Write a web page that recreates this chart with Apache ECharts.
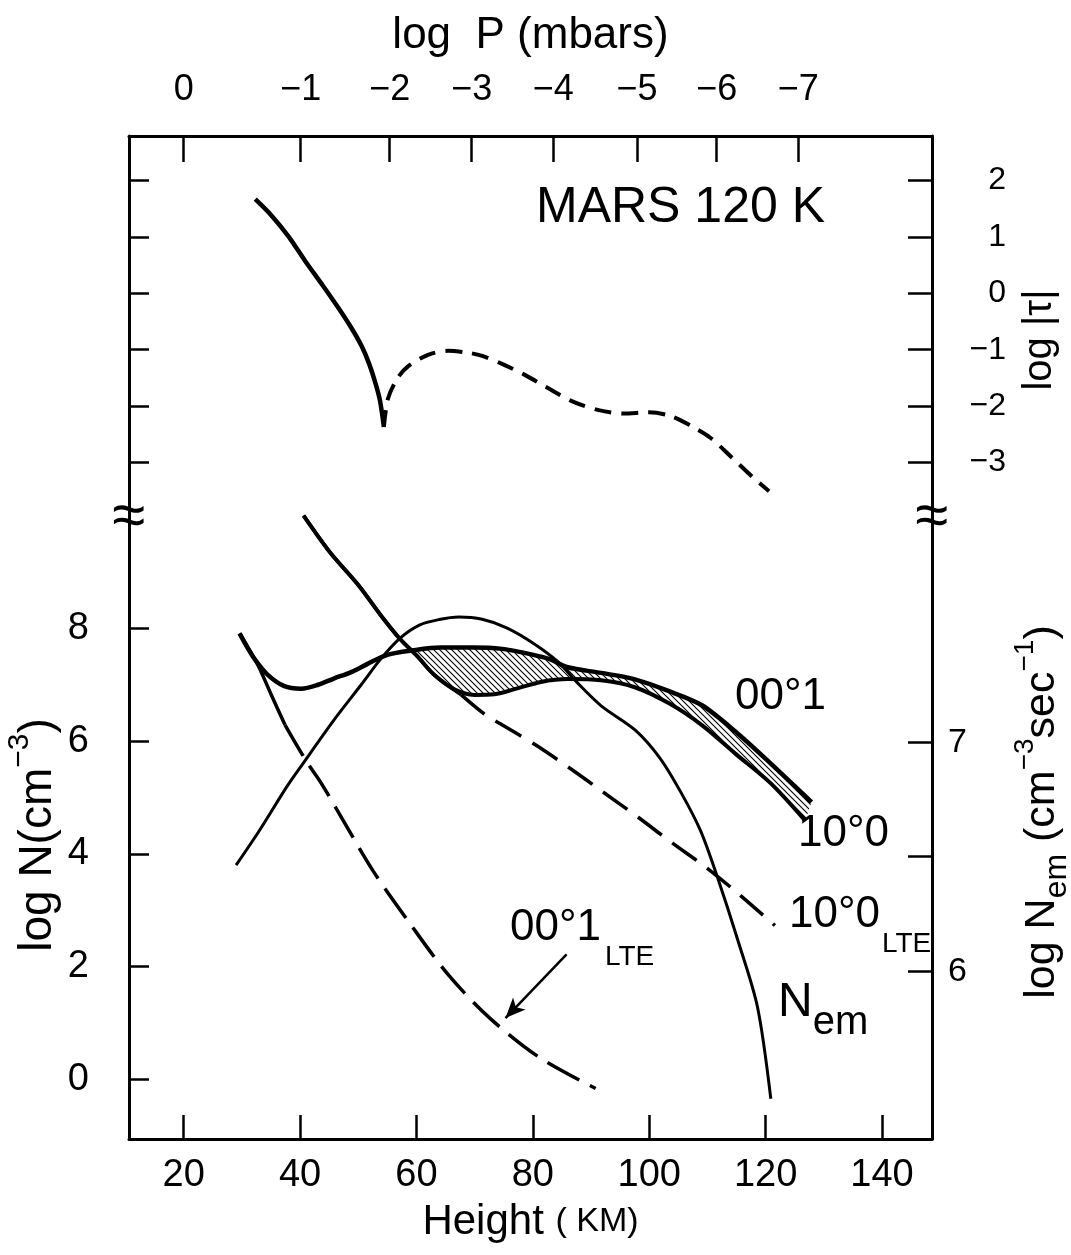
<!DOCTYPE html>
<html>
<head>
<meta charset="utf-8">
<title>MARS 120 K</title>
<style>
  html, body { margin: 0; padding: 0; background: #fff; }
  #main { width: 1071px; height: 1255px; }
</style>
<script src="https://cdn.jsdelivr.net/npm/echarts@6/dist/echarts.min.js"></script>
</head>
<body>
<div id="main"></div>
<script>
// ---- axes ----
var heightTicks = [20, 40, 60, 80, 100, 120, 140];
var pressureLabels = ['0', '−1', '−2', '−3', '−4', '−5', '−6', '−7'];
var pressureHeights = [20.0, 40.1, 55.4, 69.5, 83.5, 97.9, 111.6, 125.6];   // km under each log P tick
var logNTicks = [0, 2, 4, 6, 8];
var tauTicks = [-3, -2, -1, 0, 1, 2];
var nemTicks = [6, 6.5, 7];
var nemLabels = [6, 7];

// axis extents (left log N scale; the tau and N_em scales are tied to it)
var kmMin = 10.6, kmMax = 148.6;
var logNMin = -1.055, logNMax = 16.73;
var tauShift = 13.94;                       // log|tau| = logN - tauShift
var nemAt = function (n) { return 6 + (n - 1.92) / 4.06; };

// ---- curves: [height km, value] ----
// log|tau|, solid branch and dashed branch
var tauSolid = [[32.3, 1.67], [35.0, 1.39], [38.0, 1.01], [40.9, 0.57], [43.9, 0.14], [46.6, -0.26],
  [48.8, -0.61], [50.6, -0.94], [51.9, -1.26], [53.0, -1.61], [53.75, -1.91], [54.4, -2.37]];
var tauDashed = [[54.4, -2.37], [55.1, -1.87], [56.7, -1.51], [58.6, -1.29], [62.0, -1.09], [65.4, -1.02],
  [68.7, -1.05], [71.3, -1.11], [74.7, -1.25], [78.7, -1.45], [82.6, -1.68], [86.9, -1.92], [91.3, -2.07],
  [95.6, -2.13], [99.9, -2.11], [103.5, -2.17], [107.0, -2.34], [110.5, -2.56], [114.2, -2.91],
  [117.7, -3.25], [120.6, -3.51]];

// log N (cm^-3)
var n001 = [[29.6, 7.91], [31.0, 7.65], [32.3, 7.44], [34.4, 7.18], [37.2, 6.98], [40.2, 6.93], [43.1, 7.00],
  [45.8, 7.11], [48.7, 7.22], [51.6, 7.37], [55.0, 7.53], [59.4, 7.61], [64.1, 7.66], [69.7, 7.66],
  [74.4, 7.64], [80.1, 7.53], [83.0, 7.45], [86.0, 7.31], [91.7, 7.21], [97.4, 7.10], [103.3, 6.89],
  [109.0, 6.64], [114.8, 6.17], [120.8, 5.61], [127.9, 4.92]];
var n100 = [[40.6, 10.0], [45.2, 9.34], [50.0, 8.77], [54.1, 8.20], [57.1, 7.82], [60.1, 7.51], [63.0, 7.18],
  [66.5, 6.92], [70.0, 6.82], [73.4, 6.83], [77.5, 6.94], [81.4, 7.05], [86.0, 7.10], [91.7, 7.08],
  [97.4, 6.96], [103.4, 6.67], [109.1, 6.28], [114.9, 5.77], [120.9, 5.25], [126.8, 4.59]];
var n100LTE = [[40.6, 10.0], [45.2, 9.34], [50.0, 8.77], [54.1, 8.20], [57.1, 7.82], [60.1, 7.51], [63.0, 7.18],
  [67.7, 6.82], [71.8, 6.47], [74.7, 6.29], [80.5, 5.93], [86.5, 5.51], [92.3, 5.08], [98.1, 4.65],
  [104.0, 4.19], [109.8, 3.76], [115.6, 3.27], [121.6, 2.73]];
var n001LTE = [[29.6, 7.91], [32.7, 7.36], [35.1, 6.81], [37.4, 6.29], [41.1, 5.64], [43.6, 5.26], [47.2, 4.63],
  [52.6, 3.69], [58.5, 2.82], [65.6, 1.84], [72.7, 1.08], [81.0, 0.40], [90.8, -0.16]];

// log N_em (cm^-3 sec^-1)
var nem = [[29.0, 6.463], [33.1, 6.618], [37.7, 6.805], [40.5, 6.907], [46.0, 7.103], [50.5, 7.251],
  [53.8, 7.362], [57.1, 7.453], [60.5, 7.512], [63.9, 7.536], [67.3, 7.547], [71.3, 7.537], [75.5, 7.500],
  [80.0, 7.434], [84.2, 7.354], [87.8, 7.256], [91.8, 7.158], [97.6, 7.053], [101.9, 6.929], [105.5, 6.779],
  [108.8, 6.615], [111.6, 6.420], [115.3, 6.130], [118.6, 5.845], [120.9, 5.443]];

var hatchFromKm = 59.4;                    // shaded band between 00°1 and 10°0 starts here
var lteSolidUntil100 = 8, lteSolidUntil001 = 4;
var arrowFrom = [85.8, 2.22], arrowTo = [75.3, 1.09];

var FONT = 'Liberation Sans, Arial, sans-serif';

function hatchCanvas() {
  var c = document.createElement('canvas');
  c.width = 6; c.height = 6;
  var g = c.getContext('2d');
  g.strokeStyle = '#000';
  g.lineWidth = 1.1;
  g.beginPath();
  g.moveTo(-1, -1); g.lineTo(7, 7);
  g.moveTo(-1, 5); g.lineTo(1, 7);
  g.moveTo(5, -1); g.lineTo(7, 1);
  g.stroke();
  return c;
}
var hatch = hatchCanvas();

function curve(data, yAxisIndex, width, dash) {
  return {
    type: 'line', data: data, yAxisIndex: yAxisIndex, showSymbol: false, smooth: 0.3, z: 3,
    silent: true, animation: false,
    lineStyle: { color: '#000', width: width, type: dash || 'solid', cap: 'butt' }
  };
}

function txt(x, y, text, size, more) {
  var el = {
    type: 'text', x: x, y: y, silent: true,
    style: { text: text, fontFamily: FONT, fontSize: size, fill: '#000', align: 'left', verticalAlign: 'middle' }
  };
  if (more) {
    for (var k in more) {
      if (k === 'style') { for (var s in more.style) el.style[s] = more.style[s]; }
      else el[k] = more[k];
    }
  }
  return el;
}

var chart = echarts.init(document.getElementById('main'));

var axisLine = { show: true, onZero: false, lineStyle: { color: '#000', width: 3 } };
var noLine = { show: false, onZero: false };
function ticks(values, len) {
  return { show: true, inside: true, length: len, customValues: values, lineStyle: { color: '#000', width: 2.5 } };
}

var lte001Dashed = curve(n001LTE.slice(lteSolidUntil001 - 1), 0, 3.5, [36, 12]);
lte001Dashed.markLine = {
  silent: true, animation: false, symbol: ['none', 'arrow'], symbolSize: [13, 20],
  label: { show: false },
  lineStyle: { color: '#000', width: 2.5, type: 'solid' },
  data: [[{ coord: arrowFrom }, { coord: arrowTo }]]
};

chart.setOption({
  backgroundColor: '#fff',
  animation: false,
  textStyle: { fontFamily: FONT, color: '#000' },
  grid: { left: 129, right: 139, top: 136, bottom: 116, outerBoundsMode: 'none' },
  xAxis: [{
    type: 'value', position: 'bottom', min: kmMin, max: kmMax,
    axisLine: axisLine, splitLine: { show: false },
    axisTick: ticks(heightTicks, 24),
    axisLabel: { customValues: heightTicks, fontSize: 38, color: '#000', margin: 18, fontFamily: FONT },
    name: 'Height {s|( KM)}', nameLocation: 'middle', nameGap: 62,
    nameTextStyle: { fontSize: 42, color: '#000', fontFamily: FONT, rich: { s: { fontSize: 34, fontFamily: FONT } } }
  }, {
    type: 'value', position: 'top', min: kmMin, max: kmMax,
    axisLine: axisLine, splitLine: { show: false },
    axisTick: ticks(pressureHeights, 26),
    axisLabel: {
      customValues: pressureHeights, fontSize: 36, color: '#000', margin: 28, fontFamily: FONT,
      formatter: function (v) {
        var best = 0;
        for (var i = 1; i < pressureHeights.length; i++) {
          if (Math.abs(pressureHeights[i] - v) < Math.abs(pressureHeights[best] - v)) best = i;
        }
        return pressureLabels[best];
      }
    },
    name: 'log  P (mbars)', nameLocation: 'middle', nameGap: 78,
    nameTextStyle: { fontSize: 44, color: '#000', fontFamily: FONT }
  }],
  yAxis: [{
    type: 'value', position: 'left', min: logNMin, max: logNMax,
    axisLine: axisLine, splitLine: { show: false },
    axisTick: ticks(logNTicks, 20),
    axisLabel: { customValues: logNTicks, fontSize: 38, color: '#000', margin: 40, fontFamily: FONT }
  }, {
    type: 'value', position: 'left', min: logNMin - tauShift, max: logNMax - tauShift,
    axisLine: noLine, splitLine: { show: false },
    axisTick: ticks(tauTicks, 20), axisLabel: { show: false }
  }, {
    type: 'value', position: 'right', min: logNMin - tauShift, max: logNMax - tauShift,
    axisLine: axisLine, splitLine: { show: false },
    axisTick: ticks(tauTicks, 24),
    axisLabel: {
      customValues: tauTicks, fontSize: 32, color: '#000', margin: 74, align: 'right', fontFamily: FONT,
      formatter: function (v) { return v < 0 ? '−' + (-v) : String(v); }
    }
  }, {
    type: 'value', position: 'right', min: nemAt(logNMin), max: nemAt(logNMax),
    axisLine: noLine, splitLine: { show: false },
    axisTick: ticks(nemTicks, 24),
    axisLabel: { customValues: nemLabels, fontSize: 34, color: '#000', margin: 16, fontFamily: FONT }
  }],
  series: [
    {
      type: 'custom', xAxisIndex: 0, yAxisIndex: 0, z: 1, silent: true, animation: false,
      data: [[hatchFromKm, 0]],
      renderItem: function (params, api) {
        var top = n001.filter(function (p) { return p[0] >= hatchFromKm; }).map(function (p) { return api.coord(p); });
        var bot = n100.filter(function (p) { return p[0] >= hatchFromKm; }).map(function (p) { return api.coord(p); }).reverse();
        return {
          type: 'polygon', shape: { points: top.concat(bot) },
          style: { fill: { image: hatch, repeat: 'repeat' }, stroke: null }
        };
      }
    },
    curve(n001, 0, 4.5),
    curve(n100, 0, 4),
    curve(n100LTE.slice(0, lteSolidUntil100), 0, 3.5),
    curve(n100LTE.slice(lteSolidUntil100 - 1), 0, 3.5, [30, 13]),
    curve(n001LTE.slice(0, lteSolidUntil001), 0, 3.5),
    lte001Dashed,
    curve(nem, 3, 3),
    curve(tauSolid, 2, 4.5),
    curve(tauDashed, 2, 4, [17, 10])
  ],
  graphic: { elements: [
    txt(536, 208, 'MARS 120 K', 50),
    txt(735, 697, '00°1', 44),
    txt(798, 834, '10°0', 44),
    txt(789, 915, '10°0{s|LTE}', 44, { style: { rich: {
      s: { fontSize: 28, fontFamily: FONT, padding: [58, 0, 0, 2], lineHeight: 28, verticalAlign: 'middle' }
    } } }),
    txt(510, 928, '00°1{s|LTE}', 44, { style: { rich: {
      s: { fontSize: 28, fontFamily: FONT, padding: [58, 0, 0, 4], lineHeight: 28, verticalAlign: 'middle' }
    } } }),
    txt(778, 1003, 'N{s|em}', 48, { style: { rich: {
      s: { fontSize: 40, fontFamily: FONT, padding: [40, 0, 0, 0], lineHeight: 40, verticalAlign: 'middle' }
    } } }),
    txt(38, 835, 'log N(cm{p|−3})', 46, { rotation: Math.PI / 2, style: { align: 'center', rich: {
      p: { fontSize: 30, fontFamily: FONT, padding: [0, 0, 36, 0], lineHeight: 30, verticalAlign: 'middle' }
    } } }),
    txt(1040, 340, 'log |τ|', 40, { rotation: Math.PI / 2, style: { align: 'center' } }),
    txt(1042, 812, 'log N{s|em} (cm{p|−3}sec{p|−1})', 43, { rotation: Math.PI / 2, style: { align: 'center', rich: {
      s: { fontSize: 32, fontFamily: FONT, padding: [30, 0, 0, 0], lineHeight: 32, verticalAlign: 'middle' },
      p: { fontSize: 28, fontFamily: FONT, padding: [0, 0, 34, 0], lineHeight: 28, verticalAlign: 'middle' }
    } } }),
    txt(129, 518, '≈', 60, { style: { align: 'center' } }),
    txt(932, 518, '≈', 60, { style: { align: 'center' } })
  ] }
});
</script>
</body>
</html>
